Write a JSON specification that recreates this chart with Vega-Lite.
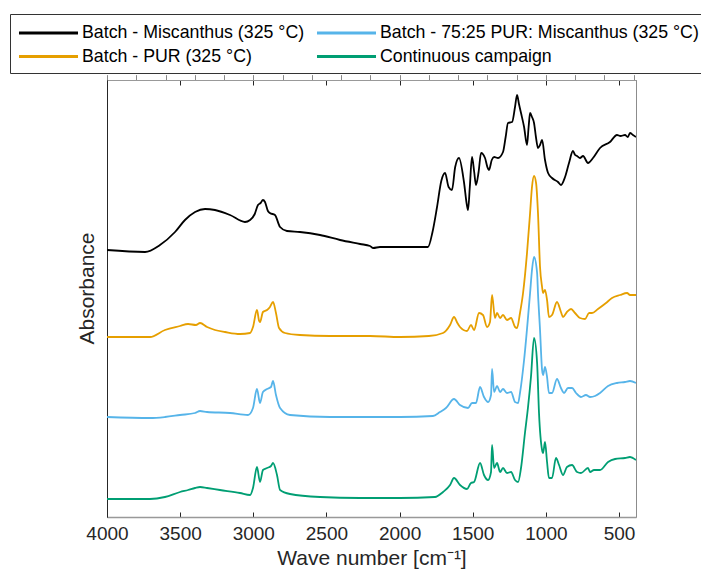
{
  "$schema": "https://vega.github.io/schema/vega-lite/v6.json",
  "width": 529,
  "height": 437,
  "autosize": {"type": "none"},
  "padding": {"left": 107, "top": 80, "right": 65, "bottom": 55},
  "background": "white",
  "config": {
    "font": "Liberation Sans",
    "view": {"stroke": "#8c8c8c", "strokeWidth": 1},
    "axis": {"grid": false, "labelColor": "#262626", "titleColor": "#262626", "titleFontWeight": "normal"}
  },
  "datasets": {
    "misc": [
      {"wn":4000,"a":267},{"wn":3740,"a":265},{"wn":3638,"a":272},{"wn":3535,"a":285},{"wn":3467,"a":297},{"wn":3398,"a":305},{"wn":3330,"a":308},{"wn":3262,"a":307},{"wn":3159,"a":302},{"wn":3057,"a":295},{"wn":3022,"a":297},{"wn":2990,"a":303},{"wn":2968,"a":312},{"wn":2950,"a":314},{"wn":2934,"a":317},{"wn":2920,"a":315},{"wn":2900,"a":306},{"wn":2886,"a":304},{"wn":2852,"a":302},{"wn":2817,"a":290},{"wn":2770,"a":286},{"wn":2681,"a":285},{"wn":2544,"a":282},{"wn":2407,"a":277},{"wn":2270,"a":273},{"wn":2202,"a":271},{"wn":2180,"a":269},{"wn":2134,"a":270},{"wn":1997,"a":270},{"wn":1806,"a":270},{"wn":1775,"a":285},{"wn":1744,"a":310},{"wn":1715,"a":336},{"wn":1689,"a":344},{"wn":1665,"a":330},{"wn":1642,"a":327},{"wn":1620,"a":350},{"wn":1594,"a":359},{"wn":1560,"a":335},{"wn":1540,"a":312},{"wn":1532,"a":307},{"wn":1520,"a":330},{"wn":1505,"a":360},{"wn":1490,"a":345},{"wn":1478,"a":332},{"wn":1460,"a":345},{"wn":1443,"a":364},{"wn":1416,"a":359},{"wn":1400,"a":350},{"wn":1389,"a":347},{"wn":1370,"a":357},{"wn":1354,"a":360},{"wn":1327,"a":359},{"wn":1293,"a":365},{"wn":1275,"a":380},{"wn":1259,"a":394},{"wn":1231,"a":395},{"wn":1211,"a":410},{"wn":1197,"a":422},{"wn":1184,"a":413},{"wn":1170,"a":404},{"wn":1149,"a":390},{"wn":1129,"a":372},{"wn":1118,"a":390},{"wn":1108,"a":404},{"wn":1095,"a":400},{"wn":1081,"a":394},{"wn":1068,"a":380},{"wn":1054,"a":369},{"wn":1040,"a":372},{"wn":1026,"a":377},{"wn":1006,"a":357},{"wn":985,"a":344},{"wn":958,"a":339},{"wn":917,"a":335},{"wn":897,"a":332},{"wn":869,"a":340},{"wn":842,"a":354},{"wn":815,"a":366},{"wn":800,"a":362},{"wn":787,"a":361},{"wn":767,"a":359},{"wn":746,"a":361},{"wn":712,"a":354},{"wn":678,"a":359},{"wn":630,"a":369},{"wn":562,"a":375},{"wn":514,"a":382},{"wn":490,"a":381},{"wn":459,"a":382},{"wn":440,"a":380},{"wn":425,"a":384},{"wn":405,"a":382},{"wn":384,"a":380}
    ],
    "pur": [
      {"wn":4000,"a":180},{"wn":3706,"a":180},{"wn":3604,"a":187},{"wn":3501,"a":191},{"wn":3446,"a":193},{"wn":3392,"a":192},{"wn":3364,"a":194},{"wn":3316,"a":190},{"wn":3262,"a":187},{"wn":3193,"a":185},{"wn":3091,"a":183},{"wn":3022,"a":184},{"wn":3002,"a":190},{"wn":2975,"a":207},{"wn":2960,"a":196},{"wn":2954,"a":195},{"wn":2934,"a":205},{"wn":2906,"a":207},{"wn":2886,"a":210},{"wn":2865,"a":215},{"wn":2845,"a":204},{"wn":2824,"a":189},{"wn":2783,"a":184},{"wn":2681,"a":182},{"wn":2476,"a":181},{"wn":2202,"a":181},{"wn":1997,"a":180},{"wn":1800,"a":181},{"wn":1703,"a":184},{"wn":1655,"a":192},{"wn":1628,"a":200},{"wn":1605,"a":194},{"wn":1587,"a":190},{"wn":1539,"a":186},{"wn":1512,"a":192},{"wn":1491,"a":187},{"wn":1457,"a":204},{"wn":1430,"a":202},{"wn":1402,"a":190},{"wn":1382,"a":195},{"wn":1368,"a":222},{"wn":1348,"a":199},{"wn":1334,"a":204},{"wn":1313,"a":199},{"wn":1293,"a":202},{"wn":1266,"a":197},{"wn":1238,"a":199},{"wn":1211,"a":190},{"wn":1197,"a":189},{"wn":1177,"a":204},{"wn":1156,"a":224},{"wn":1129,"a":264},{"wn":1108,"a":304},{"wn":1095,"a":330},{"wn":1081,"a":341},{"wn":1067,"a":334},{"wn":1054,"a":304},{"wn":1040,"a":250},{"wn":1026,"a":230},{"wn":1019,"a":224},{"wn":1006,"a":227},{"wn":992,"a":217},{"wn":979,"a":200},{"wn":958,"a":202},{"wn":924,"a":215},{"wn":897,"a":205},{"wn":883,"a":200},{"wn":856,"a":205},{"wn":828,"a":208},{"wn":801,"a":204},{"wn":767,"a":199},{"wn":732,"a":198},{"wn":705,"a":204},{"wn":685,"a":204},{"wn":644,"a":208},{"wn":589,"a":214},{"wn":548,"a":219},{"wn":493,"a":222},{"wn":445,"a":224},{"wn":425,"a":222},{"wn":384,"a":222}
    ],
    "mix": [
      {"wn":4000,"a":100},{"wn":3706,"a":99},{"wn":3604,"a":100},{"wn":3501,"a":102},{"wn":3398,"a":104},{"wn":3364,"a":106},{"wn":3316,"a":105},{"wn":3159,"a":104},{"wn":3036,"a":102},{"wn":3002,"a":109},{"wn":2975,"a":128},{"wn":2954,"a":114},{"wn":2934,"a":125},{"wn":2906,"a":128},{"wn":2879,"a":130},{"wn":2865,"a":136},{"wn":2845,"a":122},{"wn":2817,"a":109},{"wn":2749,"a":102},{"wn":2476,"a":100},{"wn":1997,"a":100},{"wn":1772,"a":101},{"wn":1724,"a":105},{"wn":1683,"a":109},{"wn":1628,"a":118},{"wn":1587,"a":112},{"wn":1532,"a":109},{"wn":1505,"a":114},{"wn":1478,"a":114},{"wn":1450,"a":130},{"wn":1423,"a":120},{"wn":1395,"a":115},{"wn":1375,"a":122},{"wn":1368,"a":148},{"wn":1354,"a":125},{"wn":1334,"a":131},{"wn":1313,"a":125},{"wn":1293,"a":128},{"wn":1266,"a":124},{"wn":1238,"a":125},{"wn":1211,"a":115},{"wn":1190,"a":114},{"wn":1177,"a":124},{"wn":1149,"a":157},{"wn":1108,"a":224},{"wn":1095,"a":247},{"wn":1081,"a":260},{"wn":1060,"a":244},{"wn":1054,"a":224},{"wn":1040,"a":187},{"wn":1026,"a":147},{"wn":1019,"a":142},{"wn":1006,"a":150},{"wn":992,"a":140},{"wn":979,"a":124},{"wn":958,"a":124},{"wn":924,"a":138},{"wn":897,"a":129},{"wn":876,"a":124},{"wn":849,"a":129},{"wn":821,"a":129},{"wn":794,"a":124},{"wn":760,"a":120},{"wn":726,"a":122},{"wn":698,"a":120},{"wn":664,"a":121},{"wn":630,"a":124},{"wn":575,"a":131},{"wn":514,"a":134},{"wn":459,"a":135},{"wn":425,"a":136},{"wn":384,"a":134}
    ],
    "cont": [
      {"wn":4000,"a":18},{"wn":3706,"a":18},{"wn":3604,"a":20},{"wn":3501,"a":25},{"wn":3446,"a":27},{"wn":3398,"a":29},{"wn":3364,"a":30},{"wn":3316,"a":29},{"wn":3228,"a":27},{"wn":3091,"a":24},{"wn":3022,"a":22},{"wn":3002,"a":29},{"wn":2975,"a":50},{"wn":2954,"a":35},{"wn":2934,"a":47},{"wn":2906,"a":49},{"wn":2879,"a":51},{"wn":2865,"a":54},{"wn":2838,"a":42},{"wn":2817,"a":27},{"wn":2749,"a":23},{"wn":2544,"a":20},{"wn":2270,"a":19},{"wn":1997,"a":19},{"wn":1758,"a":20},{"wn":1703,"a":25},{"wn":1655,"a":32},{"wn":1628,"a":39},{"wn":1587,"a":32},{"wn":1539,"a":28},{"wn":1512,"a":34},{"wn":1491,"a":35},{"wn":1450,"a":54},{"wn":1423,"a":42},{"wn":1395,"a":37},{"wn":1375,"a":45},{"wn":1368,"a":72},{"wn":1354,"a":49},{"wn":1334,"a":54},{"wn":1313,"a":45},{"wn":1293,"a":49},{"wn":1266,"a":44},{"wn":1238,"a":45},{"wn":1211,"a":37},{"wn":1190,"a":35},{"wn":1170,"a":49},{"wn":1143,"a":84},{"wn":1122,"a":110},{"wn":1102,"a":140},{"wn":1081,"a":179},{"wn":1060,"a":154},{"wn":1047,"a":104},{"wn":1026,"a":67},{"wn":1019,"a":64},{"wn":1006,"a":75},{"wn":992,"a":55},{"wn":979,"a":39},{"wn":958,"a":39},{"wn":931,"a":59},{"wn":910,"a":52},{"wn":883,"a":42},{"wn":856,"a":50},{"wn":821,"a":52},{"wn":787,"a":45},{"wn":760,"a":44},{"wn":712,"a":49},{"wn":698,"a":45},{"wn":671,"a":47},{"wn":630,"a":47},{"wn":575,"a":55},{"wn":527,"a":58},{"wn":459,"a":59},{"wn":425,"a":60},{"wn":384,"a":57}
    ]
  },
  "encoding": {
    "y": {"field": "a", "type": "quantitative", "scale": {"domain": [0, 437], "nice": false, "zero": false},
      "axis": {"title": "Absorbance", "labels": false, "ticks": false, "domainColor": "#262626", "domainWidth": 1, "titleFontSize": 21, "titleX": -20, "titleY": 208, "titleBaseline": "middle", "titleAngle": -90}}
  },
  "layer": [
    {
      "data": {"name": "misc"},
      "mark": {"type": "line", "strokeWidth": 1.8, "clip": true, "interpolate": "monotone"},
      "encoding": {
        "x": {"field": "wn", "type": "quantitative", "scale": {"domain": [384, 4000], "reverse": true, "nice": false, "zero": false},
          "axis": {"orient": "bottom", "title": "Wave number [cm⁻¹]", "format": "d", "values": [500,1000,1500,2000,2500,3000,3500,4000], "tickSize": -5, "tickColor": "#262626", "domainColor": "#999999", "domainWidth": 1.5, "labelFontSize": 19, "labelPadding": 12, "titleFontSize": 21, "titlePadding": 4, "labelFlush": false}},
        "color": {"datum": "Batch - Miscanthus (325 °C)", "type": "nominal",
          "scale": {"domain": ["Batch - Miscanthus (325 °C)", "Batch - 75:25 PUR: Miscanthus (325 °C)", "Batch - PUR (325 °C)", "Continuous campaign"], "range": ["#000000", "#56B4E9", "#E69F00", "#009E73"]},
          "legend": {"title": null, "orient": "none", "legendX": -97, "legendY": -66, "columns": 2, "direction": "horizontal", "symbolType": "M-3,0H3", "symbolSize": 387, "symbolOffset": 20, "symbolStrokeWidth": 3, "labelFontSize": 17.75, "labelFont": "Liberation Sans", "labelColor": "#000000", "labelLimit": 500, "labelOffset": 22, "columnPadding": 5, "rowPadding": 3, "padding": 7, "strokeColor": "#333333", "fillColor": "white"}}
      }
    },
    {
      "data": {"name": "pur"},
      "mark": {"type": "line", "strokeWidth": 1.8, "clip": true, "interpolate": "monotone"},
      "encoding": {"x": {"field": "wn", "type": "quantitative"}, "color": {"datum": "Batch - PUR (325 °C)", "type": "nominal"}}
    },
    {
      "data": {"name": "mix"},
      "mark": {"type": "line", "strokeWidth": 1.8, "clip": true, "interpolate": "monotone"},
      "encoding": {"x": {"field": "wn", "type": "quantitative"}, "color": {"datum": "Batch - 75:25 PUR: Miscanthus (325 °C)", "type": "nominal"}}
    },
    {
      "data": {"name": "cont"},
      "mark": {"type": "line", "strokeWidth": 1.8, "clip": true, "interpolate": "monotone"},
      "encoding": {"x": {"field": "wn", "type": "quantitative"}, "color": {"datum": "Continuous campaign", "type": "nominal"}}
    },
    {
      "data": {"name": "cont"},
      "mark": {"type": "line", "opacity": 0},
      "encoding": {"x": {"field": "wn", "type": "quantitative",
        "axis": {"orient": "top", "title": null, "labels": false, "values": [500,1000,1500,2000,2500,3000,3500,4000], "tickSize": -5, "tickColor": "#262626", "domainColor": "#999999", "domainWidth": 1}}}
    }
  ],
  "resolve": {"axis": {"x": "independent"}}
}
